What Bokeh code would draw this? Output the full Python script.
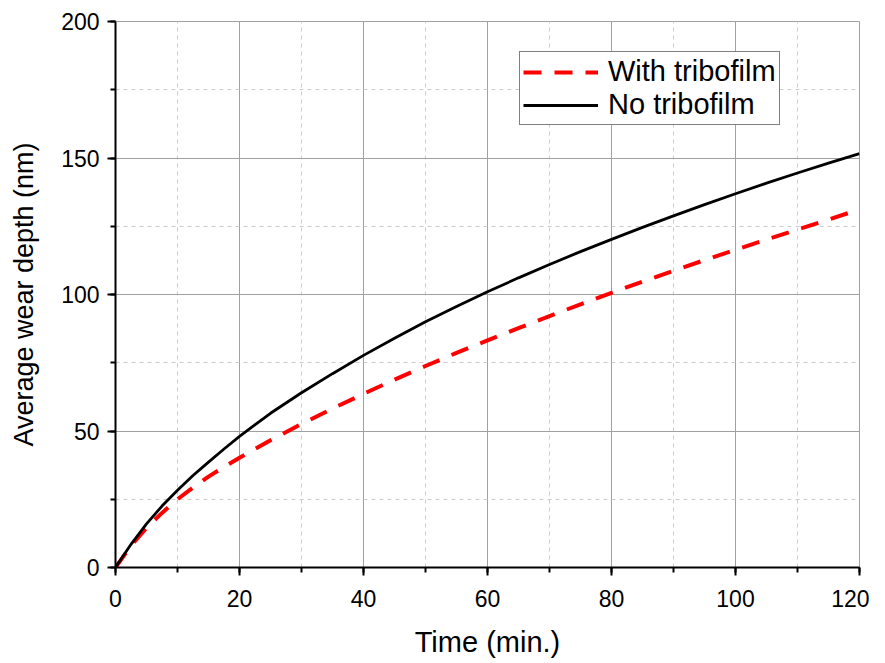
from bokeh.plotting import figure
from bokeh.models import Legend, LegendItem, Range1d, SingleIntervalTicker
from bokeh.embed import file_html
from bokeh.resources import INLINE

time_min = [0, 2.5, 5, 7.5, 10, 12.5, 15, 17.5, 20, 25, 30, 35, 40, 45, 50, 55, 60,
            65, 70, 75, 80, 85, 90, 95, 100, 105, 110, 115, 120]
no_tribofilm = [0, 8.5, 16, 22.5, 28.3, 33.7, 38.6, 43.4, 48, 56.5, 64, 71, 77.7,
                84, 90, 95.6, 101, 106.1, 111, 115.7, 120.2, 124.6, 128.8, 132.9,
                136.9, 140.8, 144.5, 148.1, 151.6]
with_tribofilm = [0, 8, 14.5, 20, 25, 29.3, 33.3, 36.8, 40.2, 46.6, 52.6, 58.2,
                  63.6, 68.8, 73.8, 78.6, 83.2, 87.7, 92.1, 96.4, 100.6, 104.7,
                  108.7, 112.6, 116.4, 120.1, 123.8, 127.4, 131.2]
x_tick_step = 20
y_tick_step = 50

FONT = "Liberation Sans"

p = figure(width=869, height=660, output_backend="svg", toolbar_location=None,
           x_range=Range1d(0, 120), y_range=Range1d(0, 200),
           min_border_left=115, min_border_right=10, min_border_top=21,
           min_border_bottom=93)

p.outline_line_color = "#a0a0a0"
p.outline_line_width = 1

for ax, step in ((p.xaxis, x_tick_step), (p.yaxis, y_tick_step)):
    ax.ticker = SingleIntervalTicker(interval=step, num_minor_ticks=2)
    ax.axis_line_width = 2
    ax.axis_line_color = "black"
    ax.major_tick_line_width = 2
    ax.major_tick_line_color = "black"
    ax.minor_tick_line_width = 2
    ax.minor_tick_line_color = "black"
    ax.major_tick_out = 8
    ax.major_tick_in = 0
    ax.minor_tick_out = 5
    ax.minor_tick_in = 0
    ax.major_label_text_font = FONT
    ax.major_label_text_font_size = "23px"
    ax.major_label_text_color = "black"
    ax.axis_label_text_font = FONT
    ax.axis_label_text_font_style = "normal"
    ax.axis_label_text_color = "black"

p.xaxis.axis_label = "Time (min.)"
p.yaxis.axis_label = "Average wear depth (nm)"
p.xaxis.axis_label_text_font_size = "29px"
p.yaxis.axis_label_text_font_size = "27px"
p.xaxis.major_label_standoff = 14
p.yaxis.major_label_standoff = 8
p.xaxis.axis_label_standoff = 16
p.yaxis.axis_label_standoff = 19

for g in (p.xgrid, p.ygrid):
    g.grid_line_color = "#a0a0a0"
    g.grid_line_width = 1
    g.minor_grid_line_color = "#cccccc"
    g.minor_grid_line_dash = "4 4"
    g.minor_grid_line_width = 1

r_with = p.line(time_min, with_tribofilm, line_color="#ff0000", line_width=4,
                line_dash="18 13")
r_no = p.line(time_min, no_tribofilm, line_color="black", line_width=2.8)

legend = Legend(items=[LegendItem(label="With tribofilm", renderers=[r_with]),
                       LegendItem(label="No tribofilm", renderers=[r_no])],
                location=(404, 442))
legend.border_line_color = "black"
legend.border_line_width = 1
legend.background_fill_color = "white"
legend.background_fill_alpha = 1
legend.label_text_font = FONT
legend.label_text_font_size = "29px"
legend.label_text_color = "black"
legend.glyph_width = 75
legend.label_standoff = 10
legend.padding = 3
legend.spacing = 0
legend.margin = 0
p.add_layout(legend, "center")

open("out.html", "w").write(file_html(p, INLINE))
